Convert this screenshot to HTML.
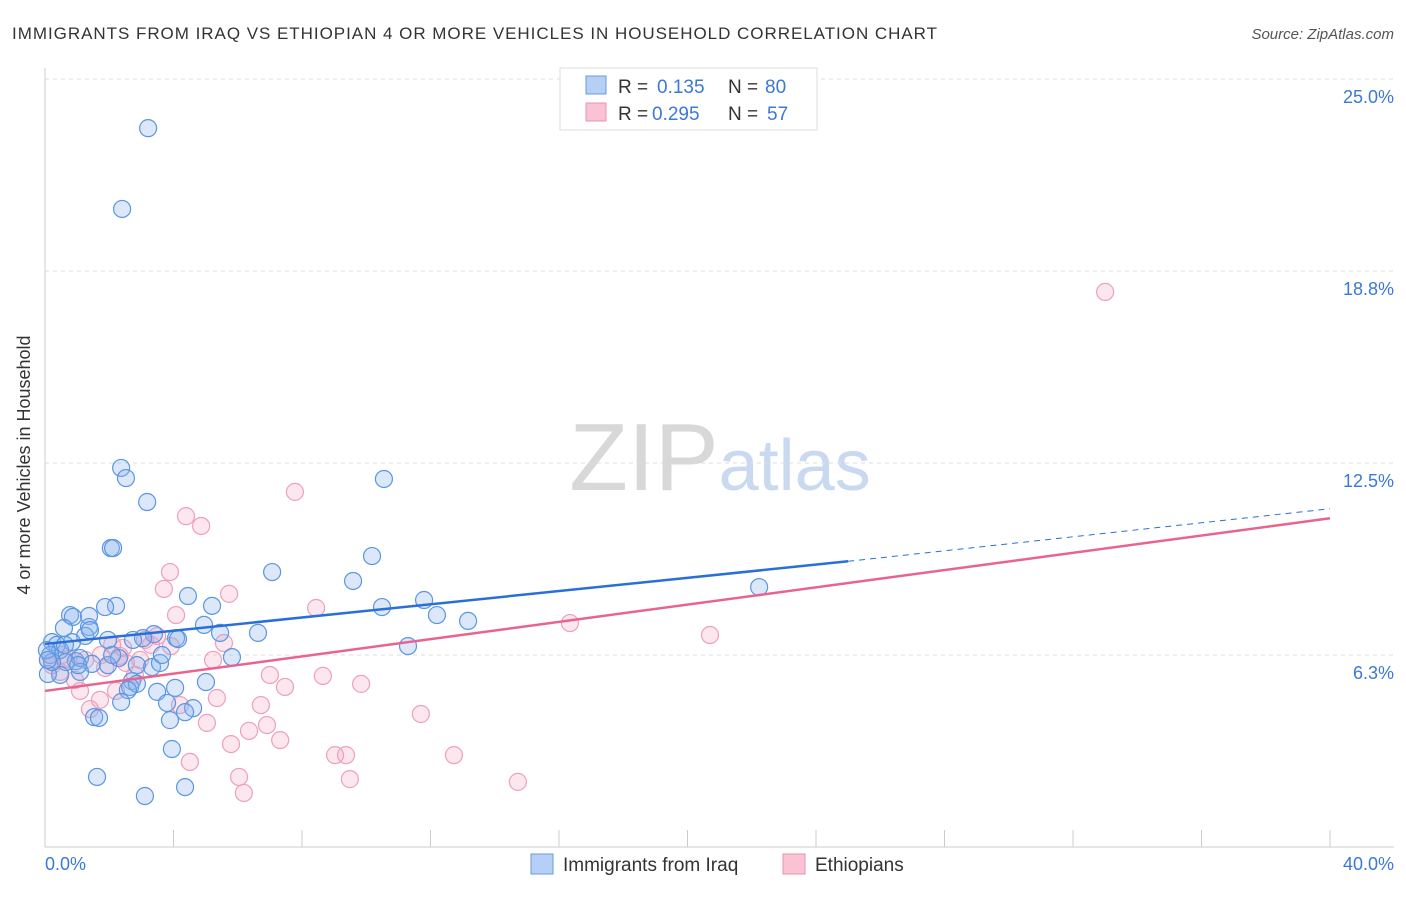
<!DOCTYPE html>
<html><head><meta charset="utf-8"><style>
body{margin:0;background:#fff;font-family:"Liberation Sans",sans-serif;}
svg text{font-family:"Liberation Sans",sans-serif;}
</style></head><body>
<svg id="c" width="1406" height="892">
<text x="12" y="39" font-size="17" fill="#333" textLength="925">IMMIGRANTS FROM IRAQ VS ETHIOPIAN 4 OR MORE VEHICLES IN HOUSEHOLD CORRELATION CHART</text>
<text x="1394" y="39" font-size="15" fill="#555" font-style="italic" text-anchor="end">Source: ZipAtlas.com</text>
<text x="720" y="490" font-size="96" fill="#ddd" text-anchor="middle" font-family="Liberation Serif"><tspan fill="#d8d8d8">ZIP</tspan><tspan fill="#c9daf0" font-family="Liberation Sans" font-size="72">atlas</tspan></text>
<g id="grid"></g><g id="pts"></g><g id="lines"></g>
<text x="20" y="455" font-size="18" fill="#333" transform="rotate(-90 30 455)" text-anchor="middle">4 or more Vehicles in Household</text>
<text x="45" y="870" font-size="18" fill="#3b78d8">0.0%</text>
<text x="1394" y="870" font-size="18" fill="#3b78d8" text-anchor="end">40.0%</text>
<g>
<rect x="560" y="68" width="257" height="62" fill="#fff" stroke="#ddd"/>
<rect x="586" y="76" width="20" height="18" fill="#b5cff5" stroke="#6a9ae0"/>
<rect x="586" y="103" width="20" height="18" fill="#f9c3d4" stroke="#ec8fb0"/>
<text x="618" y="93" font-size="19" fill="#333">R =</text>
<text x="657" y="93" font-size="19" fill="#3b78d8">0.135</text>
<text x="728" y="93" font-size="19" fill="#333">N =</text>
<text x="765" y="93" font-size="19" fill="#3b78d8">80</text>
<text x="618" y="120" font-size="19" fill="#333">R =</text>
<text x="652" y="120" font-size="19" fill="#3b78d8">0.295</text>
<text x="728" y="120" font-size="19" fill="#333">N =</text>
<text x="767" y="120" font-size="19" fill="#3b78d8">57</text>
</g>
<g>
<rect x="531" y="854" width="22" height="20" fill="#b5cff5" stroke="#6a9ae0"/>
<text x="563" y="871" font-size="19" fill="#333">Immigrants from Iraq</text>
<rect x="783" y="854" width="22" height="20" fill="#f9c3d4" stroke="#ec8fb0"/>
<text x="815" y="871" font-size="19" fill="#333">Ethiopians</text>
</g>
</svg>
<script>
const yTicks=[6.25,12.5,18.75,25];
const yTickLabels=["6.3%","12.5%","18.8%","25.0%"];
const iraqPx=[[148,128],[122,209],[121,468],[126,478],[147,502],[384,479],[111,548],[113,548],[372,556],[272,572],[353,581],[188,596],[212,606],[382,607],[424,600],[437,615],[468,621],[759,587],[116,606],[105,607],[70,615],[73,617],[89,616],[89,627],[64,628],[204,625],[258,633],[220,633],[176,638],[178,639],[154,634],[143,638],[133,640],[408,646],[85,636],[72,642],[52,642],[57,645],[60,650],[50,655],[76,661],[80,658],[66,662],[92,664],[108,665],[119,658],[152,667],[160,663],[137,665],[60,675],[48,674],[132,681],[130,687],[137,684],[128,690],[157,692],[175,688],[206,682],[232,657],[121,702],[167,703],[193,708],[185,712],[170,720],[94,717],[99,718],[172,749],[97,777],[185,787],[145,796],[52,662],[80,672],[47,650],[108,640],[78,665],[65,645],[90,630],[162,655],[48,660],[112,655]];
const ethPx=[[1105,292],[295,492],[186,516],[201,526],[170,572],[164,589],[229,594],[176,615],[316,608],[570,623],[710,635],[157,636],[145,640],[151,645],[171,646],[112,645],[123,648],[101,655],[62,655],[68,659],[48,660],[120,656],[213,660],[126,663],[85,660],[105,668],[135,675],[224,643],[270,675],[285,687],[323,676],[361,684],[80,691],[116,691],[217,698],[180,705],[261,705],[90,709],[421,714],[207,723],[267,725],[249,731],[280,740],[231,744],[335,755],[346,755],[454,755],[190,762],[350,779],[239,777],[244,793],[518,782],[52,665],[60,672],[75,680],[140,660],[100,700]];
const iraqX=iraqPx.map(p=>+((p[0]-45)/32.125).toFixed(2));
const iraqY=iraqPx.map(p=>+((847-p[1])/30.72).toFixed(2));
const ethX=ethPx.map(p=>+((p[0]-45)/32.125).toFixed(2));
const ethY=ethPx.map(p=>+((847-p[1])/30.72).toFixed(2));
const iraqTrend=[[0,6.61],[25,9.3],[40,11.01]];
const ethTrend=[[0,5.08],[40,10.7]];
const X=v=>45+v*32.125, Y=v=>847-v*30.72;
const NS="http://www.w3.org/2000/svg";
function mk(t,a,p){const e=document.createElementNS(NS,t);for(const k in a)e.setAttribute(k,a[k]);p.appendChild(e);return e;}
const g=document.getElementById('grid');
mk('line',{x1:45,y1:68,x2:45,y2:847,stroke:'#ccc'},g);
mk('line',{x1:45,y1:847,x2:1394,y2:847,stroke:'#ccc'},g);
for(let i=0;i<=10;i++){const l=mk('line',{x1:X(i*4),y1:830,x2:X(i*4),y2:847,stroke:'#ccc'},g);

}
yTicks.forEach((v,i)=>{const l=mk('line',{x1:45,y1:Y(v),x2:1394,y2:Y(v),stroke:'#ddd','stroke-dasharray':'4,4'},g);


const t=mk('text',{x:1394,y:Y(v)+24,'font-size':18,fill:'#3b78d8','text-anchor':'end'},g);t.textContent=yTickLabels[i];

});
const P=document.getElementById('pts');
ethX.forEach((x,i)=>{const c=mk('circle',{cx:X(x),cy:Y(ethY[i]),r:8.5,fill:'rgba(244,160,190,0.25)',stroke:'#ee9fbc','stroke-width':1.2},P);

});
iraqX.forEach((x,i)=>{const c=mk('circle',{cx:X(x),cy:Y(iraqY[i]),r:8.5,fill:'rgba(140,180,240,0.3)',stroke:'#5a96e2','stroke-width':1.2},P);

});
const L=document.getElementById('lines');
let a=mk('line',{x1:X(iraqTrend[0][0]),y1:Y(iraqTrend[0][1]),x2:X(iraqTrend[1][0]),y2:Y(iraqTrend[1][1]),stroke:'#2a6fd6','stroke-width':2.5},L);


a=mk('line',{x1:X(iraqTrend[1][0]),y1:Y(iraqTrend[1][1]),x2:X(iraqTrend[2][0]),y2:Y(iraqTrend[2][1]),stroke:'#2a6fd6','stroke-width':1,'stroke-dasharray':'6,5'},L);


a=mk('line',{x1:X(ethTrend[0][0]),y1:Y(ethTrend[0][1]),x2:X(ethTrend[1][0]),y2:Y(ethTrend[1][1]),stroke:'#e8648f','stroke-width':2.5},L);


</script>
</body></html>
